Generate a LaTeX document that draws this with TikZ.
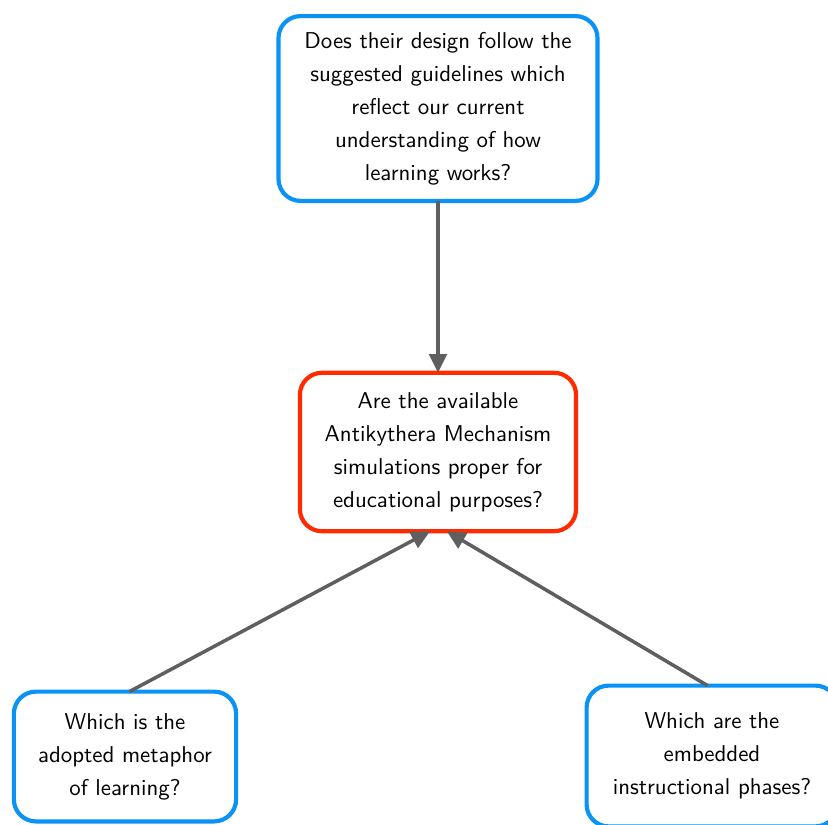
\documentclass[tikz,border=0pt]{standalone}
\usepackage{tikz}
\usetikzlibrary{arrows.meta}
\definecolor{qBlue}{HTML}{0A93F5}
\definecolor{qRed}{HTML}{FF2A00}
\definecolor{qGray}{HTML}{5F5F5F}
\tikzset{
  every node/.style={font=\fontsize{10.4}{15}\selectfont\sffamily},
  arr/.style={-{Triangle[length=8.5pt, width=8pt]}, line width=1.6pt, qGray},
  box/.style={draw, rounded corners=10pt, line width=1.9pt, fill=white,
              align=center, inner sep=4pt, outer sep=0pt},
  boxBlue/.style={box, draw=qBlue},
  boxRed/.style={box, draw=qRed},
}

\begin{document}
\begin{tikzpicture}[x=0.4545pt, y=-0.4545pt]
  \useasboundingbox (0,0) rectangle (828,824);
  % the main question
  \node[boxRed, minimum width=125.5pt, minimum height=72pt] (main) at (438,452)
    {Are the available\\ Antikythera Mechanism\\ simulations proper for\\ educational purposes?};
  % guidelines on top
  \node[boxBlue, minimum width=145pt, minimum height=84pt] (guide) at (438,108.5)
    {Does their design follow the\\ suggested guidelines which\\ reflect our current\\ understanding of how\\ learning works?};
  % the two sub-questions
  \node[boxBlue, minimum width=101pt, minimum height=59pt] (meta) at (125,756.5)
    {Which is the\\ adopted metaphor\\ of learning?};
  \node[boxBlue, minimum width=114pt, minimum height=64pt] (phase) at (712,756)
    {Which are the\\ embedded\\ instructional phases?};
  \draw[arr] (guide.south) -- (main.north);
  \draw[arr] ([xshift=2pt]meta.north) -- ([xshift=-3.6pt]main.south);
  \draw[arr] ([xshift=-2pt]phase.north) -- ([xshift=4pt]main.south);
\end{tikzpicture}
\end{document}
